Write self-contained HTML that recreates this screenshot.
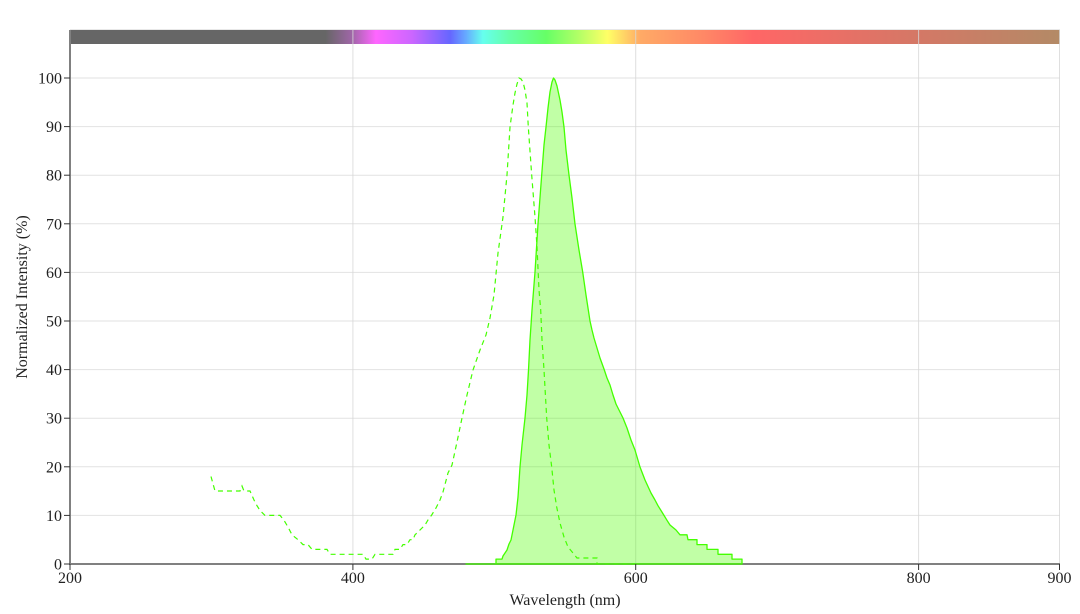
<!DOCTYPE html>
<html>
<head>
<meta charset="utf-8">
<style>
html,body{margin:0;padding:0;background:#fff;}
svg{display:block;}
text{font-family:"Liberation Serif",serif;font-size:16px;fill:#222;}
</style>
</head>
<body>
<svg width="1080" height="614" viewBox="0 0 1080 614" xmlns="http://www.w3.org/2000/svg">
<defs>
<linearGradient id="spec" x1="70" y1="0" x2="1060" y2="0" gradientUnits="userSpaceOnUse">
<stop offset="0" stop-color="#666666"/>
<stop offset="0.258" stop-color="#666666"/>
<stop offset="0.285" stop-color="#a066a8"/>
<stop offset="0.309" stop-color="#ff66ff"/>
<stop offset="0.345" stop-color="#cc66ff"/>
<stop offset="0.384" stop-color="#6666ff"/>
<stop offset="0.400" stop-color="#66aaff"/>
<stop offset="0.417" stop-color="#66ffee"/>
<stop offset="0.443" stop-color="#66ffaa"/>
<stop offset="0.481" stop-color="#66ff66"/>
<stop offset="0.514" stop-color="#b3ff66"/>
<stop offset="0.543" stop-color="#ffff66"/>
<stop offset="0.576" stop-color="#ffaa66"/>
<stop offset="0.640" stop-color="#ff8866"/>
<stop offset="0.690" stop-color="#ff6666"/>
<stop offset="0.857" stop-color="#d47866"/>
<stop offset="1" stop-color="#b38a66"/>
</linearGradient>
</defs>

<!-- color bar -->
<rect x="70" y="30" width="990" height="14" fill="url(#spec)"/>
<line x1="70" y1="29.5" x2="1060" y2="29.5" stroke="#e8e8e8" stroke-width="1"/>

<!-- grid -->
<g stroke="#e2e2e2" stroke-width="1">
<line x1="70" y1="515.4" x2="1060" y2="515.4"/>
<line x1="70" y1="466.8" x2="1060" y2="466.8"/>
<line x1="70" y1="418.2" x2="1060" y2="418.2"/>
<line x1="70" y1="369.6" x2="1060" y2="369.6"/>
<line x1="70" y1="321" x2="1060" y2="321"/>
<line x1="70" y1="272.4" x2="1060" y2="272.4"/>
<line x1="70" y1="223.8" x2="1060" y2="223.8"/>
<line x1="70" y1="175.2" x2="1060" y2="175.2"/>
<line x1="70" y1="126.6" x2="1060" y2="126.6"/>
<line x1="70" y1="78" x2="1060" y2="78"/>
</g>
<g stroke="#d8d8d8" stroke-width="1" opacity="0.8">
<line x1="352.9" y1="30" x2="352.9" y2="564"/>
<line x1="635.7" y1="30" x2="635.7" y2="564"/>
<line x1="918.6" y1="30" x2="918.6" y2="564"/>
<line x1="1059.5" y1="30" x2="1059.5" y2="564"/>
</g>

<!-- axes -->
<line x1="70" y1="30" x2="70" y2="565" stroke="#808080" stroke-width="2"/>
<line x1="69" y1="564" x2="1060" y2="564" stroke="#808080" stroke-width="2"/>

<!-- emission (filled) -->
<path d="M466,564 L496,564 L496,559.1 L502,559.1 L503,556 L505,553 L507,550 L509,544 L511,540 L513,530 L516,515 L518,497 L520,467 L522,445 L525,418 L527,395 L528.5,370 L530,340 L532,310 L535,272 L538,224 L541.7,175 L544,145 L546,127 L548,108 L550,92 L552,82 L553.5,78 L555,80 L557,86 L560,100 L562,112 L564,127 L566,150 L569,175 L572,198 L575,224 L579,250 L582.7,272 L586,295 L590,321 L592,330 L594,338 L597,348 L600,358 L604,369 L607,378 L610,385 L613,395 L616,404 L619,410 L623,418 L627,428 L631,440 L635,450 L640,467 L645,480 L651,493 L655,500 L658,505.7 L661,510.5 L664,515.4 L667,520.3 L670,525 L676,530 L680,534.8 L687,534.8 L688,539.7 L697,539.7 L697,544.6 L707,544.6 L707,549.4 L718,549.4 L718,554.3 L732,554.3 L732,559.1 L742,559.1 L742,564 Z" fill="#4cff00" fill-opacity="0.35" stroke="#44ff00" stroke-width="1.3" stroke-linejoin="round"/>

<!-- excitation (dashed) -->
<path d="M211,476.5 L215,491 L240,491 L242,486 L244,491 L250,491 L254,500 L257,505.7 L260,510.5 L265,515.4 L280,515.4 L284,520.3 L288,527 L292,534.8 L298,539.7 L303,544.6 L308,544.6 L312,549.4 L327,549.4 L330,554.3 L363,554.3 L366,559.1 L372,559.1 L375,554.3 L393,554.3 L395,549.4 L400,549.4 L403,544.6 L407,544.6 L410,539.7 L413,539.7 L415,534.8 L418,532 L422,528 L425,525 L428,520 L431.7,515 L436,508 L440,500 L443,492 L448,473 L452,465 L457,442 L462,418 L467,395 L473,370 L480,350 L486,335 L490,318 L494,295 L498,253 L503,217 L507,175 L510,127 L513,105 L515,93 L517,84 L519,78 L521,79 L523,82 L525,90 L527,103 L528.3,127 L531.7,175 L535,217 L537,247 L539,290 L540.7,310 L542,340 L544,370 L546.7,418 L549,445 L551.7,467 L554,490 L556.7,507 L560,523 L564,537 L568,547 L573,553 L577,558 L597,558 L597,564 L635,564" fill="none" stroke="#44ff00" stroke-width="1.2" stroke-dasharray="5,4"/>

<!-- ticks -->
<g stroke="#333" stroke-width="1">
<line x1="64" y1="564" x2="70" y2="564"/>
<line x1="64" y1="515.4" x2="70" y2="515.4"/>
<line x1="64" y1="466.8" x2="70" y2="466.8"/>
<line x1="64" y1="418.2" x2="70" y2="418.2"/>
<line x1="64" y1="369.6" x2="70" y2="369.6"/>
<line x1="64" y1="321" x2="70" y2="321"/>
<line x1="64" y1="272.4" x2="70" y2="272.4"/>
<line x1="64" y1="223.8" x2="70" y2="223.8"/>
<line x1="64" y1="175.2" x2="70" y2="175.2"/>
<line x1="64" y1="126.6" x2="70" y2="126.6"/>
<line x1="64" y1="78" x2="70" y2="78"/>
<line x1="70" y1="564" x2="70" y2="570"/>
<line x1="352.9" y1="564" x2="352.9" y2="570"/>
<line x1="635.7" y1="564" x2="635.7" y2="570"/>
<line x1="918.6" y1="564" x2="918.6" y2="570"/>
<line x1="1059.5" y1="564" x2="1059.5" y2="570"/>
</g>

<g text-anchor="end">
<text x="62" y="569.5">0</text>
<text x="62" y="520.9">10</text>
<text x="62" y="472.3">20</text>
<text x="62" y="423.7">30</text>
<text x="62" y="375.1">40</text>
<text x="62" y="326.5">50</text>
<text x="62" y="277.9">60</text>
<text x="62" y="229.3">70</text>
<text x="62" y="180.7">80</text>
<text x="62" y="132.1">90</text>
<text x="62" y="83.5">100</text>
</g>

<g text-anchor="middle">
<text x="70" y="583">200</text>
<text x="352.9" y="583">400</text>
<text x="635.7" y="583">600</text>
<text x="918.6" y="583">800</text>
<text x="1059.5" y="583">900</text>
<text x="565" y="605">Wavelength (nm)</text>
<text transform="translate(27,297) rotate(-90)">Normalized Intensity (%)</text>
</g>
</svg>
</body>
</html>
